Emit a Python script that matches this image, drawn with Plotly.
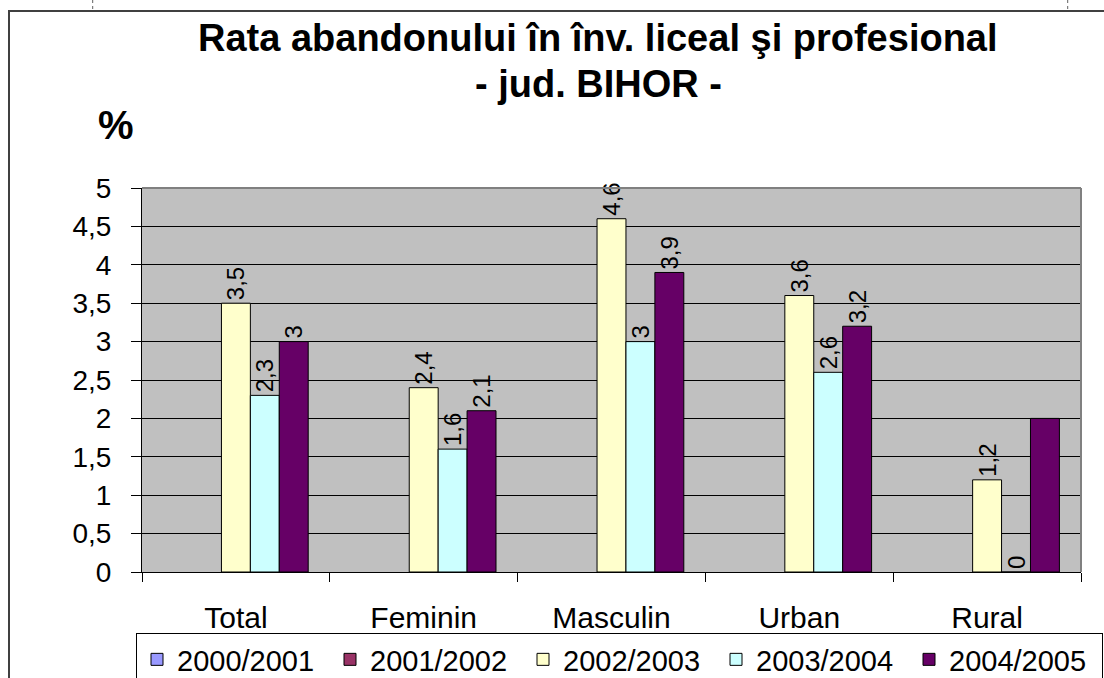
import plotly.graph_objects as go

categories = ["Total", "Feminin", "Masculin", "Urban", "Rural"]
series_names = ["2000/2001", "2001/2002", "2002/2003", "2003/2004", "2004/2005"]
values_2000_2001 = [None, None, None, None, None]
values_2001_2002 = [None, None, None, None, None]
values_2002_2003 = [3.5, 2.4, 4.6, 3.6, 1.2]
values_2003_2004 = [2.3, 1.6, 3.0, 2.6, 0.0]
values_2004_2005 = [3.0, 2.1, 3.9, 3.2, 2.0]
labels_shown_2004_2005 = [True, True, True, True, False]
ytick_vals = [0, 0.5, 1, 1.5, 2, 2.5, 3, 3.5, 4, 4.5, 5]
ytick_text = ["0", "0,5", "1", "1,5", "2", "2,5", "3", "3,5", "4", "4,5", "5"]

colors = ["#9999FF", "#993366", "#FFFFCC", "#CCFFFF", "#660066"]
all_values = [values_2000_2001, values_2001_2002, values_2002_2003,
              values_2003_2004, values_2004_2005]

FONT = "Liberation Sans, Arial, sans-serif"

# pixel geometry
W, H = 1104, 678
L, R, T, B = 142, 1081, 188, 572
PW, PH = R - L, B - T


def px(x):
    return (x - L) / PW


def py(y):
    return (B - y) / PH


def fmt(v):
    if v is None:
        return ""
    s = ("%g" % v).replace(".", ",")
    return s


fig = go.Figure()
for i, (name, vals) in enumerate(zip(series_names, all_values)):
    texts = [fmt(v) for v in vals]
    if i == 4:
        texts = [t if show else "" for t, show in zip(texts, labels_shown_2004_2005)]
    fig.add_trace(go.Bar(
        x=categories, y=vals, name=name,
        marker=dict(color=colors[i], line=dict(color="black", width=1)),
        text=texts, textposition="outside", textangle=-90,
        textfont=dict(family=FONT, size=24, color="black"),
        cliponaxis=False, constraintext="none",
    ))

shapes = [
    # chart frame
    dict(type="rect", xref="paper", yref="paper",
         x0=px(9), x1=px(1112), y0=py(11), y1=py(700),
         line=dict(color="#404040", width=2), layer="below"),
    # plot area top & right border
    dict(type="line", xref="paper", yref="paper",
         x0=0, x1=1, y0=1, y1=1, line=dict(color="#808080", width=2)),
    dict(type="line", xref="paper", yref="paper",
         x0=1, x1=1, y0=0, y1=1, line=dict(color="#808080", width=2)),
    # dotted marks at top
    dict(type="line", xref="paper", yref="paper",
         x0=px(92.7), x1=px(92.7), y0=py(0), y1=py(10),
         line=dict(color="#606060", width=1, dash="dot")),
    dict(type="line", xref="paper", yref="paper",
         x0=px(1067.7), x1=px(1067.7), y0=py(0), y1=py(10),
         line=dict(color="#606060", width=1, dash="dot")),
]

annotations = [
    dict(text="<b>Rata abandonului în înv. liceal şi profesional</b>",
         xref="paper", yref="paper", x=px(598), y=py(38),
         xanchor="center", yanchor="middle", showarrow=False,
         font=dict(family=FONT, size=38, color="black")),
    dict(text="<b>- jud. BIHOR -</b>",
         xref="paper", yref="paper", x=px(598), y=py(84),
         xanchor="center", yanchor="middle", showarrow=False,
         font=dict(family=FONT, size=38, color="black")),
    dict(text="<b>%</b>",
         xref="paper", yref="paper", x=px(116), y=py(125),
         xanchor="center", yanchor="middle", showarrow=False,
         font=dict(family=FONT, size=40, color="black")),
]

fig.update_layout(
    width=W, height=H,
    margin=dict(l=L, r=W - R, t=T, b=H - B, pad=0, autoexpand=False),
    paper_bgcolor="white", plot_bgcolor="#C0C0C0",
    barmode="group", bargap=0.23, bargroupgap=0,
    font=dict(family=FONT, color="black"),
    showlegend=True,
    legend=dict(orientation="h",
                x=px(136), xanchor="left",
                y=py(633), yanchor="top",
                bgcolor="white", bordercolor="black", borderwidth=1,
                font=dict(family=FONT, size=29, color="black"),
                entrywidth=148, entrywidthmode="pixels",
                traceorder="normal"),
    shapes=shapes, annotations=annotations,
)

fig.update_xaxes(
    type="category", tickson="boundaries", ticks="outside", ticklen=9,
    tickcolor="black", tickwidth=1, showline=True, linecolor="black",
    linewidth=1, showgrid=False,
    tickfont=dict(family=FONT, size=30, color="black"),
    ticklabelstandoff=19,
)
fig.update_yaxes(
    range=[0, 5], tickvals=ytick_vals, ticktext=ytick_text,
    ticks="outside", ticklen=10, tickcolor="black", tickwidth=1,
    showline=True, linecolor="black", linewidth=1,
    showgrid=True, gridcolor="black", gridwidth=1, zeroline=False,
    tickfont=dict(family=FONT, size=28, color="black"),
    ticklabelstandoff=14,
)

fig.write_html("out.html",
               config={"displayModeBar": False},
               post_script="document.body.style.margin='0';"
                           "document.body.style.padding='0';")
